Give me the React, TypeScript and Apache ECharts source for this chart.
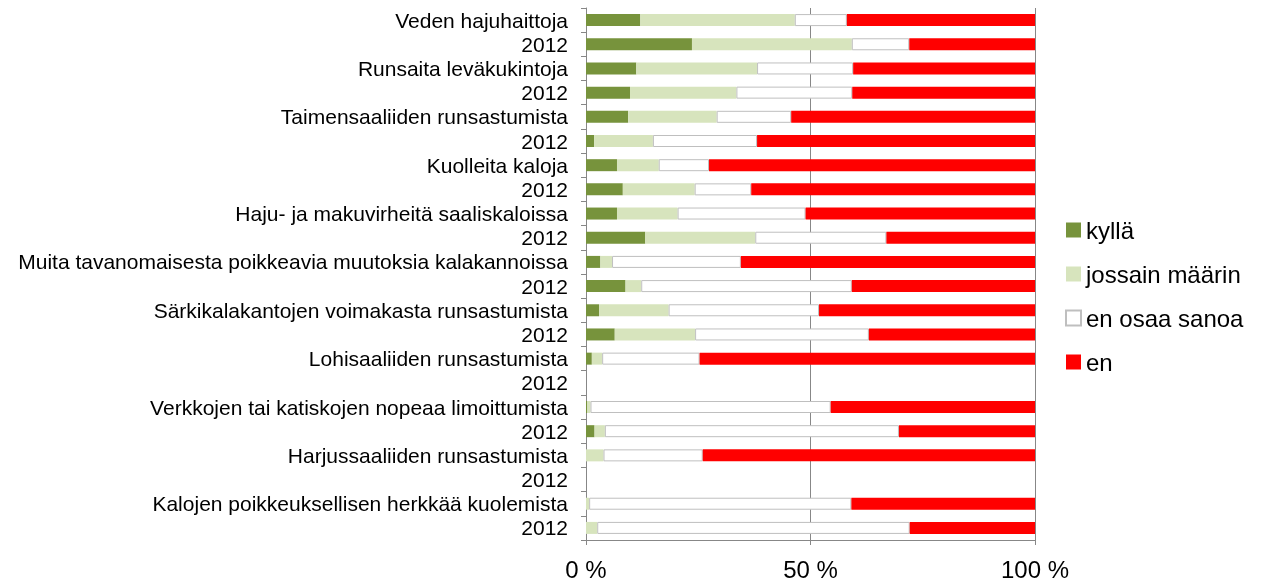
import React, { useEffect, useRef } from "react";
import * as echarts from "echarts";

const categories = [
  "Veden hajuhaittoja", "2012",
  "Runsaita leväkukintoja", "2012",
  "Taimensaaliiden runsastumista", "2012",
  "Kuolleita kaloja", "2012",
  "Haju- ja makuvirheitä saaliskaloissa", "2012",
  "Muita tavanomaisesta poikkeavia muutoksia kalakannoissa", "2012",
  "Särkikalakantojen voimakasta runsastumista", "2012",
  "Lohisaaliiden runsastumista", "2012",
  "Verkkojen tai katiskojen nopeaa limoittumista", "2012",
  "Harjussaaliiden runsastumista", "2012",
  "Kalojen poikkeuksellisen herkkää kuolemista", "2012",
];

const kylla = [12.1, 23.6, 11.2, 9.8, 9.4, 1.8, 6.9, 8.2, 6.9, 13.2, 3.2, 8.8, 2.9, 6.4, 1.3, null, 0.3, 1.9, 0, null, 0, 0];
const jossain = [34.4, 35.6, 26.9, 23.7, 19.7, 13.1, 9.3, 16.0, 13.5, 24.5, 2.6, 3.5, 15.5, 17.9, 2.3, null, 0.7, 2.3, 3.9, null, 0.7, 2.5];
const enOsaa = [11.6, 12.8, 21.4, 25.8, 16.6, 23.2, 11.2, 12.6, 28.5, 29.2, 28.7, 46.9, 33.5, 38.7, 21.7, null, 53.5, 65.5, 22.1, null, 58.4, 69.6];
const en = [41.9, 28.0, 40.5, 40.7, 54.3, 61.9, 72.6, 63.2, 51.1, 33.1, 65.5, 40.8, 48.1, 37.0, 74.7, null, 45.5, 30.3, 74.0, null, 40.9, 27.9];

const seriesNames = ["kyllä", "jossain määrin", "en osaa sanoa", "en"];
const xTicks = [0, 50, 100];

const FONT = "'Liberation Sans', Arial, sans-serif";

export default function App() {
  const ref = useRef<HTMLDivElement>(null);
  useEffect(() => {
    if (!ref.current) return;
    const chart = echarts.init(ref.current, null, { renderer: "svg" });
    const mk = (name: string, data: (number | null)[], color: string, border?: string) => ({
      name,
      type: "bar",
      stack: "total",
      barWidth: 12,
      data,
      itemStyle: border
        ? { color, borderColor: border, borderWidth: 1 }
        : { color },
      emphasis: { disabled: true },
    });
    chart.setOption({
      animation: false,
      textStyle: { fontFamily: FONT },
      grid: { left: 586, right: 236, top: 8, bottom: 44, containLabel: false },
      legend: {
        orient: "vertical",
        left: 1065,
        top: 218,
        padding: 0,
        itemWidth: 15,
        itemHeight: 15,
        itemGap: 20,
        icon: "rect",
        data: seriesNames,
        textStyle: { fontSize: 24, lineHeight: 24, color: "#000", fontFamily: FONT },
        selectedMode: false,
      },
      xAxis: {
        type: "value",
        min: xTicks[0],
        max: xTicks[xTicks.length - 1],
        interval: 50,
        axisLine: { show: true, lineStyle: { color: "#878787", width: 1 } },
        axisTick: { show: true, length: 5, lineStyle: { color: "#878787" } },
        axisLabel: { formatter: "{value} %", fontSize: 24, color: "#000", margin: 17, fontFamily: FONT },
        splitLine: { show: true, lineStyle: { color: "#878787", width: 1 } },
      },
      yAxis: {
        type: "category",
        inverse: true,
        data: categories,
        axisLine: { show: true, lineStyle: { color: "#878787", width: 1 } },
        axisTick: { show: true, length: 5, interval: 0, lineStyle: { color: "#878787" } },
        axisLabel: { interval: 0, fontSize: 21, color: "#000", margin: 18, fontFamily: FONT },
      },
      series: [
        mk(seriesNames[0], kylla, "#77933C"),
        mk(seriesNames[1], jossain, "#D7E4BD"),
        mk(seriesNames[2], enOsaa, "#FFFFFF", "#BFBFBF"),
        mk(seriesNames[3], en, "#FF0000"),
      ],
    });
    return () => chart.dispose();
  }, []);
  return (
    <div
      ref={ref}
      style={{ position: "fixed", left: 0, top: 0, width: 1271, height: 584 }}
    />
  );
}
